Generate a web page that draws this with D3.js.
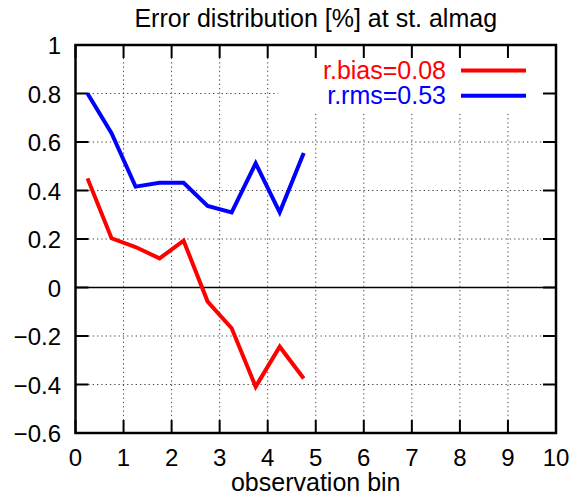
<!DOCTYPE html>
<html><head><meta charset="utf-8">
<script src="https://cdn.jsdelivr.net/npm/d3@7"></script>
<style>body{margin:0;background:#fff}svg{display:block}text{font-family:"Liberation Sans",Arial,sans-serif}</style>
</head><body>
<script>
const bins = [0.25,0.75,1.25,1.75,2.25,2.75,3.25,3.75,4.25,4.75];
const biasValues = [0.45,0.203,0.167,0.12,0.193,-0.058,-0.168,-0.409,-0.244,-0.375];
const rmsValues = [0.80,0.636,0.416,0.432,0.432,0.336,0.31,0.512,0.31,0.555];
const xTicks = [0,1,2,3,4,5,6,7,8,9,10];
const yTicks = [-0.6,-0.4,-0.2,0,0.2,0.4,0.6,0.8,1];
const legendLabels = ["r.bias=0.08","r.rms=0.53"];
const seriesColors = ["#ff0000","#0000ff"];
const titleText = "Error distribution [%] at st. almag";
const xLabel = "observation bin";

const W=587,H=498, L=75.5,R=556,T=45,B=433;
const svg=d3.select("body").append("svg").attr("width",W).attr("height",H);
const x=d3.scaleLinear().domain([0,10]).range([L,R]);
const y=d3.scaleLinear().domain([-0.6,1]).range([B,T]);

// grid
const g=svg.append("g").attr("stroke","#444").attr("stroke-width",1).attr("stroke-dasharray","1.3,3");
g.selectAll("line.v").data(xTicks.slice(1,-1)).join("line")
 .attr("x1",d=>x(d)).attr("x2",d=>x(d)).attr("y1",T).attr("y2",B);
g.selectAll("line.h").data(yTicks.filter(d=>d!==0&&d!==-0.6&&d!==1)).join("line")
 .attr("y1",d=>y(d)).attr("y2",d=>y(d)).attr("x1",L).attr("x2",R);
// legend area erases grid
svg.append("rect").attr("x",278).attr("y",57).attr("width",263).attr("height",54).attr("fill","#fff");

// zero line
svg.append("line").attr("x1",L).attr("x2",R).attr("y1",y(0)).attr("y2",y(0)).attr("stroke","#000").attr("stroke-width",1.6);

// axes with inward ticks
const tl=13;
const ax=svg.append("g").attr("stroke","#000").attr("stroke-width",2);
ax.selectAll("line.xb").data(xTicks).join("line").attr("x1",d=>x(d)).attr("x2",d=>x(d)).attr("y1",B).attr("y2",B-tl);
ax.selectAll("line.xt").data(xTicks).join("line").attr("x1",d=>x(d)).attr("x2",d=>x(d)).attr("y1",T).attr("y2",T+tl);
ax.selectAll("line.yl").data(yTicks).join("line").attr("y1",d=>y(d)).attr("y2",d=>y(d)).attr("x1",L).attr("x2",L+tl);
ax.selectAll("line.yr").data(yTicks).join("line").attr("y1",d=>y(d)).attr("y2",d=>y(d)).attr("x1",R).attr("x2",R-tl);
svg.append("rect").attr("x",L).attr("y",T).attr("width",R-L).attr("height",B-T).attr("fill","none").attr("stroke","#000").attr("stroke-width",2.5);

// tick labels
const fmt=d=>d<0?"\u2212"+String(-d):String(d);
svg.append("g").selectAll("text").data(yTicks).join("text")
 .attr("x",61).attr("y",d=>y(d)+9).attr("text-anchor","end").attr("font-size",24).text(fmt);
svg.append("g").selectAll("text").data(xTicks).join("text")
 .attr("x",d=>x(d)).attr("y",466).attr("text-anchor","middle").attr("font-size",24).text(d=>String(d));

svg.append("text").attr("x",(L+R)/2).attr("y",27.3).attr("text-anchor","middle").attr("font-size",25).text(titleText);
svg.append("text").attr("x",(L+R)/2).attr("y",490.5).attr("text-anchor","middle").attr("font-size",25).text(xLabel);

// series
const line=d3.line().x((d,i)=>x(bins[i])).y(d=>y(d));
[biasValues,rmsValues].forEach((vals,k)=>{
  svg.append("path").datum(vals).attr("d",line).attr("fill","none")
   .attr("stroke",seriesColors[k]).attr("stroke-width",4).attr("stroke-linejoin","miter");
});

// legend
legendLabels.forEach((lab,k)=>{
  const ly=70.5+k*25.3;
  svg.append("text").attr("x",446).attr("y",ly+8).attr("text-anchor","end").attr("font-size",25)
   .attr("fill",seriesColors[k]).text(lab);
  svg.append("line").attr("x1",461).attr("x2",526).attr("y1",ly).attr("y2",ly)
   .attr("stroke",seriesColors[k]).attr("stroke-width",4);
});
</script>
</body></html>
